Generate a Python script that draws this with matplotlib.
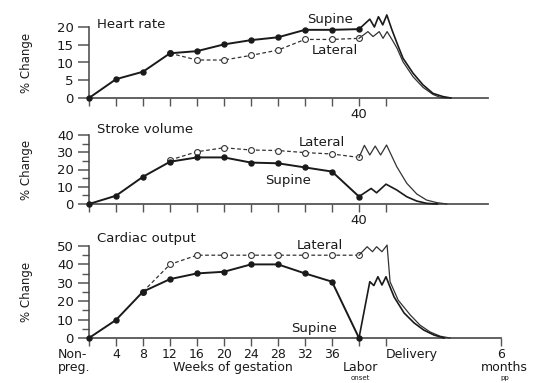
import matplotlib
matplotlib.use("Agg")
import matplotlib.pyplot as plt
from matplotlib.ticker import MultipleLocator

plt.rcParams['font.family'] = ['DejaVu Sans']

# x positions: 0 = non-pregnant, 1..9 = 4..36 weeks, 10 = 40 wk / labor onset, 11 = delivery, 15.25 = 6 months pp
weeks_x = [0, 1, 2, 3, 4, 5, 6, 7, 8, 9, 10]
week_labels = ['4', '8', '12', '16', '20', '24', '28', '32', '36']

# ---------------- Heart rate ----------------
hr_supine = [0, 5.3, 7.4, 12.6, 13.2, 15.1, 16.3, 17.1, 19.2, 19.2, 19.4]
hr_lat_x = [3, 4, 5, 6, 7, 8, 9, 10]
hr_lateral = [12.6, 10.7, 10.7, 12.0, 13.5, 16.5, 16.5, 16.8]
hr_sup_pp_x = [10, 10.4, 10.57, 10.72, 10.88, 11.03, 11.22, 11.41, 11.63, 12.0, 12.37, 12.74, 13.11, 13.4]
hr_sup_pp = [19.4, 22.2, 20.0, 22.9, 20.6, 23.4, 19.2, 15.4, 11.2, 7.0, 3.7, 1.3, 0.4, 0]
hr_lat_pp_x = [10, 10.33, 10.52, 10.75, 10.89, 11.04, 11.22, 11.41, 11.63, 12.0, 12.37, 12.74, 13.0, 13.25]
hr_lat_pp = [16.8, 18.7, 17.3, 18.7, 16.8, 18.7, 16.5, 14.0, 10.2, 6.0, 3.0, 1.0, 0.2, 0]

# ---------------- Stroke volume ----------------
sv_supine = [0, 4.8, 15.8, 24.5, 27.0, 27.0, 24.0, 23.6, 21.2, 18.8, 4.3]
sv_lat_x = [3, 4, 5, 6, 7, 8, 9, 10]
sv_lateral = [25.5, 30.3, 32.6, 31.3, 31.0, 29.8, 29.0, 27.0]
sv_sup_pp_x = [10, 10.45, 10.65, 11.0, 11.4, 11.77, 12.14, 12.5, 12.9]
sv_sup_pp = [4.3, 9.0, 6.5, 11.5, 8.1, 4.2, 1.7, 0.4, 0]
sv_lat_pp_x = [10, 10.2, 10.4, 10.6, 10.8, 11.02, 11.4, 11.77, 12.14, 12.5, 12.88, 13.25]
sv_lat_pp = [27.0, 34.0, 28.4, 33.6, 28.4, 34.2, 21.6, 12.0, 5.8, 2.3, 0.8, 0]

# ---------------- Cardiac output ----------------
co_supine = [0, 9.8, 25.2, 32.0, 35.1, 36.0, 40.0, 40.0, 35.1, 30.6, 0]
co_lat_x = [2, 3, 4, 5, 6, 7, 8, 9, 10]
co_lateral = [25.2, 40.0, 45.0, 45.0, 45.0, 45.0, 45.0, 45.0, 45.0]
co_sup_pp_x = [10, 10.4, 10.55, 10.7, 10.85, 11.0, 11.12, 11.3, 11.67, 12.04, 12.4, 12.78, 13.15]
co_sup_pp = [0, 30.6, 28.5, 33.3, 28.8, 33.3, 28.8, 22.3, 13.6, 8.2, 4.3, 1.6, 0]
co_lat_pp_x = [10, 10.3, 10.5, 10.65, 10.85, 11.04, 11.15, 11.45, 11.9, 12.26, 12.63, 13.0, 13.37]
co_lat_pp = [45.0, 49.6, 46.9, 49.6, 46.9, 50.5, 30.6, 20.6, 12.5, 7.0, 3.3, 1.0, 0]

W, H = 539, 383
fig = plt.figure(figsize=(W / 100, H / 100), dpi=100)

def px_axes(y0, y1):
    left = 89 / W
    width = 27 * 15.5 / W
    return [left, (H - y0) / H, width, (y0 - y1) / H]

ax1 = fig.add_axes(px_axes(98, 27))
ax2 = fig.add_axes(px_axes(204, 135))
ax3 = fig.add_axes(px_axes(338, 246))

ink = '#1a1a1a'
FS = 9.5

panels = [
    (ax1, 20, 5, None, hr_supine, hr_lat_x, hr_lateral, hr_sup_pp_x, hr_sup_pp, hr_lat_pp_x, hr_lat_pp),
    (ax2, 40, 10, 5, sv_supine, sv_lat_x, sv_lateral, sv_sup_pp_x, sv_sup_pp, sv_lat_pp_x, sv_lat_pp),
    (ax3, 50, 10, 5, co_supine, co_lat_x, co_lateral, co_sup_pp_x, co_sup_pp, co_lat_pp_x, co_lat_pp),
]

for (ax, ymax, major, minor, sup, lx, lat, spx, spp, lpx, lpp) in panels:
    ax.set_xlim(0, 15.5)
    ax.set_ylim(0, ymax)
    for s in ['top', 'right']:
        ax.spines[s].set_visible(False)
    ax.spines['left'].set_color('#444444')
    ax.spines['bottom'].set_color('#555555')
    ax.spines['left'].set_linewidth(1.1)
    ax.spines['bottom'].set_linewidth(1.3)
    ax.spines['left'].set_bounds(0, ymax)
    ax.yaxis.set_major_locator(MultipleLocator(major))
    if minor:
        ax.yaxis.set_minor_locator(MultipleLocator(minor))
        ax.tick_params(axis='y', which='minor', length=5, width=1.0, color='#555555')
    ax.tick_params(axis='y', which='major', length=8, width=1.1, color='#555555',
                   labelsize=FS, pad=3, labelcolor=ink)
    ax.patch.set_alpha(0)
    # lateral
    ax.plot(lx, lat, linestyle=(0, (3, 2)), color='#333333', lw=0.9, marker='o', ms=4.2,
            mfc='white', mec='#333333', mew=0.8, clip_on=False, zorder=3)
    ax.plot(lpx, lpp, color='#333333', lw=0.9, clip_on=False, zorder=3)
    # supine
    ax.plot(weeks_x, sup, color=ink, lw=1.4, marker='o', ms=3.6, mfc=ink, mec=ink,
            clip_on=False, zorder=4)
    ax.plot(spx, spp, color=ink, lw=1.2, clip_on=False, zorder=4)
    ax.set_ylabel('% Change', fontsize=8.5, color=ink)

for ax in (ax1, ax2):
    ax.spines['bottom'].set_bounds(0, 14.78)
    ax.set_xticks(list(range(0, 12)))
    ax.set_xticklabels([''] * 10 + ['40', ''])
    ax.tick_params(axis='x', length=6, width=1.0, color='#555555', labelsize=FS, pad=1,
                   labelcolor=ink)

ax3.spines['bottom'].set_bounds(0, 15.25)
ax3.set_xticks(list(range(0, 12)) + [15.25])
ax3.set_xticklabels([''] * 13)
ax3.tick_params(axis='x', length=6, width=1.0, color='#555555')

for ax in (ax1, ax2, ax3):
    ax.yaxis.set_label_coords(-0.135, 0.5)

# titles
ax1.text(0.3, 20.8, 'Heart rate', fontsize=FS, color=ink, va='center', ha='left')
ax2.text(0.3, 42.9, 'Stroke volume', fontsize=FS, color=ink, va='center', ha='left')
ax3.text(0.3, 54.3, 'Cardiac output', fontsize=FS, color=ink, va='center', ha='left')

# position labels
ax1.text(8.93, 22.0, 'Supine', fontsize=FS, color=ink, ha='center', va='center')
ax1.text(9.1, 13.5, 'Lateral', fontsize=FS, color=ink, ha='center', va='center')
ax2.text(8.63, 35.4, 'Lateral', fontsize=FS, color=ink, ha='center', va='center')
ax2.text(7.37, 13.9, 'Supine', fontsize=FS, color=ink, ha='center', va='center')
ax3.text(8.56, 50.5, 'Lateral', fontsize=FS, color=ink, ha='center', va='center')
ax3.text(8.33, 5.4, 'Supine', fontsize=FS, color=ink, ha='center', va='center')

# bottom axis labels
FB = 9
for i, lab in enumerate(week_labels):
    ax3.text(i + 1, -9.0, lab, fontsize=FB, color=ink, ha='center', va='center')
ax3.text(-1.15, -8.8, 'Non-', fontsize=FB, color=ink, ha='left', va='center')
ax3.text(-1.15, -16.0, 'preg.', fontsize=FB, color=ink, ha='left', va='center')
ax3.text(5.33, -16.3, 'Weeks of gestation', fontsize=FB, color=ink, ha='center', va='center')
ax3.text(10.05, -16.3, 'Labor', fontsize=FB, color=ink, ha='center', va='center')
ax3.text(10.05, -21.9, 'onset', fontsize=5, color=ink, ha='center', va='center')
ax3.text(11.95, -9.0, 'Delivery', fontsize=FB, color=ink, ha='center', va='center')
ax3.text(15.25, -9.0, '6', fontsize=FB, color=ink, ha='center', va='center')
ax3.text(15.4, -16.3, 'months', fontsize=FB, color=ink, ha='center', va='center')
ax3.text(15.4, -21.9, 'pp', fontsize=5, color=ink, ha='center', va='center')

fig.savefig('out.png', dpi=100)
